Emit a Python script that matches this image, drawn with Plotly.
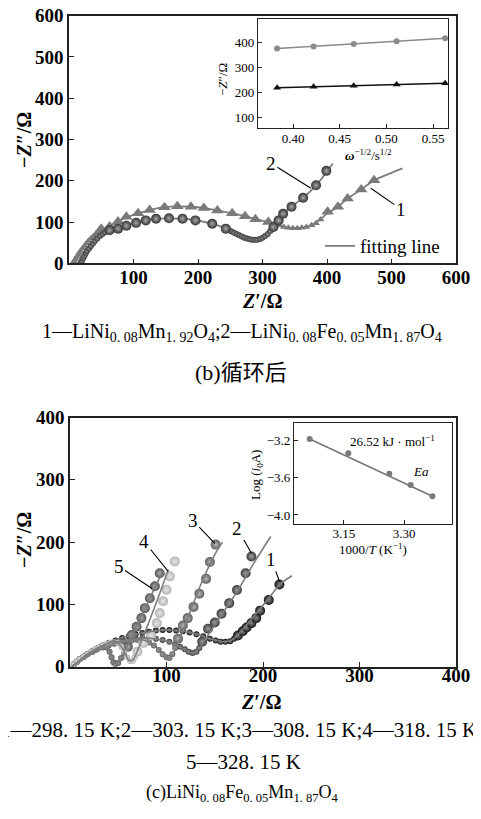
import plotly.graph_objects as go

W, H = 481, 819
SERIF = "Liberation Serif, Noto Sans CJK SC"

# ---------------- Panel (b) data ----------------
# series 1: LiNi0.08Mn1.92O4 (triangles)
t1_x = [50, 63, 76, 89, 107, 125, 148, 168, 189, 209, 230, 253, 273, 289, 309, 401, 417, 432, 453, 473]
t1_y = [84, 89, 101, 113, 121, 129, 136, 138, 137, 134, 128, 121, 114, 107, 100, 125, 137, 157, 179, 201]
t1s_x = [6, 8, 10, 12, 14, 16, 18, 21, 24, 27, 30, 34, 38, 42, 46,
         318, 326, 333, 340, 347, 354, 361, 368, 376, 383, 390]
t1s_y = [0, 5, 10, 15, 20, 25, 30, 36, 42, 48, 54, 60, 66, 72, 78,
         96, 92, 88, 86, 85, 85, 86, 88, 92, 97, 106]
fit1_x = [6, 20, 35, 50, 63, 76, 89, 107, 125, 148, 168, 189, 209, 230, 253, 273, 289, 309, 325, 340, 354, 368, 383, 401, 417, 432, 453, 473, 495, 517]
fit1_y = [0, 34, 62, 80, 90, 101, 111, 121, 129, 136, 138, 137, 134, 128, 121, 114, 107, 100, 92, 86, 85, 88, 99, 121, 137, 157, 179, 201, 216, 230]

# series 2: LiNi0.08Fe0.05Mn1.87O4 (spheres)
c2_x = [63, 76, 89, 104, 119, 135, 155, 176, 196, 222, 243, 317, 325, 332, 345, 363, 383, 399]
c2_y = [80, 84, 91, 98, 104, 108, 109, 108, 104, 96, 84, 88, 104, 120, 137, 159, 189, 224]
c2s_x = [18, 20, 22, 24, 26, 28, 31, 34, 37, 40, 44, 48, 52, 56, 60,
         248, 252, 256, 260, 264, 268, 272, 276, 280, 284, 288, 292, 296, 300, 304, 308, 312]
c2s_y = [0, 6, 12, 18, 24, 30, 36, 42, 48, 54, 60, 66, 71, 75, 78,
         80, 77, 74, 71, 68, 65, 62, 60, 58, 57, 57, 57, 59, 62, 66, 71, 78]
fit2_x = [18, 30, 40, 50, 63, 76, 89, 104, 119, 135, 155, 176, 196, 222, 243, 258, 270, 280, 290, 300, 310, 317, 325, 332, 345, 363, 383, 409]
fit2_y = [0, 30, 52, 66, 78, 85, 91, 98, 104, 108, 109, 108, 104, 96, 84, 72, 63, 58, 57, 60, 70, 88, 104, 120, 137, 159, 189, 242]

# inset (b)
ins_b_x = [0.383, 0.422, 0.465, 0.511, 0.563]
ins_b_y2 = [375, 383, 393, 404, 416]
ins_b_y1 = [218, 222, 226, 231, 236]

# ---------------- Panel (c) data ----------------
c_arc_x = {
    1: [2, 4, 7, 10, 14, 18, 23, 28, 34, 40, 47, 54, 61, 68, 75, 82, 89, 96, 103, 110, 117, 124, 131, 138, 145, 151, 156, 161, 166, 170],
    2: [2, 4, 7, 10, 14, 18, 23, 28, 34, 40, 47, 54, 61, 68, 75, 82, 89, 96, 103, 109, 114, 119, 123, 127, 131, 134],
    3: [2, 4, 7, 10, 14, 18, 23, 28, 34, 40, 46, 52, 58, 64, 70, 76, 82, 87, 92, 96, 100, 103, 106, 109],
    4: [2, 4, 7, 10, 14, 18, 22, 26, 30, 34, 38, 42, 46, 50, 53, 56, 59, 62, 65, 67],
    5: [2, 4, 7, 10, 14, 18, 22, 26, 29, 32, 35, 38, 41, 43, 45, 47, 50, 53, 56],
}
c_arc_y = {
    1: [0, 4, 8, 12, 16, 20, 25, 29, 34, 38, 42, 46, 49, 52, 54, 56, 58, 59, 59, 58, 57, 55, 52, 49, 45, 42, 40, 40, 41, 45],
    2: [0, 4, 8, 12, 16, 20, 24, 28, 32, 35, 38, 41, 43, 45, 46, 46, 45, 43, 40, 36, 32, 28, 24, 22, 24, 30],
    3: [0, 4, 8, 12, 16, 20, 24, 28, 31, 34, 37, 39, 41, 42, 43, 42, 39, 34, 27, 20, 15, 14, 20, 30],
    4: [0, 4, 8, 12, 16, 20, 24, 28, 31, 34, 37, 39, 40, 38, 32, 24, 15, 9, 9, 15],
    5: [0, 4, 8, 12, 16, 20, 24, 27, 30, 32, 33, 31, 24, 15, 7, 4, 6, 14, 22],
}
c_tail_x = {
    1: [174, 179, 183, 188, 193, 197, 206, 217],
    2: [137, 143, 150, 157, 165, 173, 182, 188],
    3: [112, 117, 122, 128, 134, 141, 145, 151],
    4: [70, 76, 84, 90, 93, 96.5, 100, 103.4, 108.6],
    5: [60, 64, 69, 74, 77.6, 82.7, 88, 93],
}
c_tail_y = {
    1: [50, 57, 63, 70, 78, 90, 107, 132],
    2: [40, 61, 71, 85, 102, 123, 150, 177],
    3: [45, 66, 78, 96, 117, 141, 168, 196],
    4: [24, 38, 50, 70, 86, 105, 123.5, 145, 169],
    5: [32, 51, 64, 78, 94, 110, 129, 150],
}
c_fit_x = {
    1: [2, 20, 45, 75, 100, 125, 145, 160, 168, 178, 190, 205, 218, 230],
    2: [2, 25, 50, 80, 100, 115, 124, 128, 134, 145, 160, 175, 190, 208],
    3: [2, 30, 55, 76, 90, 100, 104, 110, 120, 135, 150, 158],
    4: [2, 20, 35, 48, 55, 61, 65, 75, 90, 102],
    5: [2, 18, 30, 36, 42, 46, 50, 58, 75, 96],
}
c_fit_y = {
    1: [0, 20, 42, 54, 59, 55, 45, 40, 43, 58, 80, 108, 133, 146],
    2: [0, 23, 40, 46, 41, 31, 23, 22, 30, 55, 90, 125, 165, 209],
    3: [0, 28, 40, 43, 31, 15, 14, 30, 70, 130, 180, 200],
    4: [0, 22, 35, 40, 28, 10, 10, 45, 105, 156],
    5: [0, 20, 31, 33, 22, 5, 6, 30, 85, 153],
}
# inset (c)
ins_c_x = [3.065, 3.161, 3.263, 3.316, 3.370]
ins_c_y = [-3.19, -3.34, -3.56, -3.68, -3.80]

# ---------------- figure ----------------
fig = go.Figure()

OFF = 8  # page body margin of the browser view

def px2x(p):
    return (p - OFF) / W

def px2y(p):
    return 1 - (p - OFF) / H

FIT = "#7d7d7d"

# panel (b) main
fig.add_trace(go.Scatter(x=fit1_x, y=fit1_y, mode="lines", line=dict(color=FIT, width=1.8, shape="spline"),
                         name="fitting line", showlegend=True, xaxis="x", yaxis="y"))
fig.add_trace(go.Scatter(x=fit2_x, y=fit2_y, mode="lines", line=dict(color=FIT, width=1.8, shape="spline"),
                         showlegend=False, xaxis="x", yaxis="y"))
fig.add_trace(go.Scatter(x=t1s_x, y=t1s_y, mode="markers", showlegend=False, xaxis="x", yaxis="y",
                         marker=dict(symbol="triangle-up", size=7, color="#7a7a7a")))
fig.add_trace(go.Scatter(x=t1_x, y=t1_y, mode="markers", showlegend=False, xaxis="x", yaxis="y",
                         marker=dict(symbol="triangle-up", size=11, color="#7a7a7a")))
fig.add_trace(go.Scatter(x=c2s_x, y=c2s_y, mode="markers", showlegend=False, xaxis="x", yaxis="y",
                         marker=dict(size=6, color="#3a3a3a", gradient=dict(type="radial", color="#9a9a9a"))))
fig.add_trace(go.Scatter(x=c2_x, y=c2_y, mode="markers", showlegend=False, xaxis="x", yaxis="y",
                         marker=dict(size=10, color="#333333", gradient=dict(type="radial", color="#a8a8a8"))))

# inset (b)
fig.add_trace(go.Scatter(x=ins_b_x, y=ins_b_y2, mode="lines+markers", showlegend=False, xaxis="x2", yaxis="y2",
                         line=dict(color="#8a8a8a", width=1.3), marker=dict(size=6, color="#8a8a8a")))
fig.add_trace(go.Scatter(x=ins_b_x, y=ins_b_y1, mode="lines+markers", showlegend=False, xaxis="x2", yaxis="y2",
                         line=dict(color="#111111", width=1.3),
                         marker=dict(symbol="triangle-up", size=7, color="#111111")))

# panel (c) main
c_colors = {1: ("#151515", "#8a8a8a"), 2: ("#3c3c3c", "#a0a0a0"), 3: ("#5e5e5e", "#b8b8b8"),
            4: ("#b4b4b4", "#e6e6e6"), 5: ("#555555", "#adadad")}
for k in [1, 2, 3, 5, 4]:
    base, hi = c_colors[k]
    fig.add_trace(go.Scatter(x=c_arc_x[k], y=c_arc_y[k], mode="markers", showlegend=False, xaxis="x3", yaxis="y3",
                             marker=dict(size=6, color=base, gradient=dict(type="radial", color=hi))))
    fig.add_trace(go.Scatter(x=c_tail_x[k], y=c_tail_y[k], mode="markers", showlegend=False, xaxis="x3", yaxis="y3",
                             marker=dict(size=10, color=base, gradient=dict(type="radial", color=hi))))
for k in [1, 2, 3, 4, 5]:
    fig.add_trace(go.Scatter(x=c_fit_x[k], y=c_fit_y[k], mode="lines", showlegend=False, xaxis="x3", yaxis="y3",
                             line=dict(color=FIT, width=1.6, shape="spline", smoothing=0.6)))

# inset (c)
fig.add_trace(go.Scatter(x=[ins_c_x[0], ins_c_x[-1]], y=[ins_c_y[0], ins_c_y[-1]], mode="lines", showlegend=False,
                         xaxis="x4", yaxis="y4", line=dict(color="#777777", width=1.6)))
fig.add_trace(go.Scatter(x=ins_c_x, y=ins_c_y, mode="markers", showlegend=False, xaxis="x4", yaxis="y4",
                         marker=dict(size=6, color="#7a7a7a")))

main_tick = dict(family=SERIF, size=19, color="black", weight="bold")
ins_tick = dict(family=SERIF, size=13, color="black")
ax_common = dict(showgrid=False, zeroline=False, showline=True, mirror=True, ticks="inside",
                 linecolor="#222222", tickcolor="#222222", automargin=False, ticklabeloverflow="allow")

fig.update_layout(
    template="none",
    width=W, height=H, autosize=False,
    margin=dict(l=0, r=0, t=0, b=0, pad=0),
    paper_bgcolor="white", plot_bgcolor="white",
    xaxis=dict(**ax_common, domain=[px2x(69), px2x(456)], range=[0, 600], tickvals=[100, 200, 300, 400, 500, 600],
               anchor="y", linewidth=1.6, ticklen=5, tickfont=main_tick, ticklabelstandoff=-4),
    yaxis=dict(**ax_common, domain=[px2y(263.3), px2y(15.7)], range=[0, 600], tickvals=[0, 100, 200, 300, 400, 500, 600],
               anchor="x", linewidth=1.6, ticklen=5, tickfont=main_tick),
    xaxis2=dict(**ax_common, domain=[px2x(258), px2x(448)], range=[0.3625, 0.566],
                tickvals=[0.40, 0.45, 0.50, 0.55], tickformat=".2f", anchor="y2", linewidth=1.3, ticklen=4,
                tickfont=ins_tick, ticklabelstandoff=-2),
    yaxis2=dict(**ax_common, domain=[px2y(128), px2y(19)], range=[57, 493], tickvals=[100, 200, 300, 400],
                anchor="x2", linewidth=1.3, ticklen=4, tickfont=ins_tick),
    xaxis3=dict(**ax_common, domain=[px2x(70), px2x(456)], range=[0, 400], tickvals=[100, 200, 300, 400],
                anchor="y3", linewidth=1.6, ticklen=5, tickfont=main_tick, ticklabelstandoff=-9),
    yaxis3=dict(**ax_common, domain=[px2y(666.7), px2y(417.5)], range=[0, 400], tickvals=[0, 100, 200, 300, 400],
                anchor="x3", linewidth=1.6, ticklen=5, tickfont=main_tick),
    xaxis4=dict(**ax_common, domain=[px2x(294), px2x(451.7)], range=[3.026, 3.418], tickvals=[3.15, 3.30],
                tickformat=".2f", anchor="y4", linewidth=1.3, ticklen=4, tickfont=ins_tick, ticklabelstandoff=-3),
    yaxis4=dict(**ax_common, domain=[px2y(524.3), px2y(422.7)], range=[-4.1, -3.015], tickvals=[-3.2, -3.6, -4.0],
                tickformat=".1f", anchor="x4", linewidth=1.3, ticklen=4, tickfont=ins_tick),
    legend=dict(x=px2x(320), y=px2y(246), xanchor="left", yanchor="middle", bgcolor="rgba(0,0,0,0)",
                borderwidth=0, font=dict(family=SERIF, size=19, color="black")),
)

annots = []

def txt(text, px, py, size, angle=0, xanchor="center", weight="normal"):
    annots.append(dict(text=text, x=px2x(px), y=px2y(py), xref="paper", yref="paper", showarrow=False,
                       xanchor=xanchor, yanchor="middle", textangle=angle,
                       font=dict(family=SERIF, size=size, color="black", weight=weight)))

def ptr(label, xd, yd, ax, ay, xr, yr):
    annots.append(dict(text=label, x=xd, y=yd, xref=xr, yref=yr, showarrow=True, arrowhead=0,
                       arrowwidth=1.1, arrowcolor="black", ax=ax, ay=ay, standoff=0,
                       font=dict(family=SERIF, size=19, color="black")))

# panel (b) texts
txt("<b>−<i>Z</i>″/Ω</b>", 24, 140, 20, angle=-90)
txt("<b><i>Z</i>′/Ω</b>", 262, 301, 20)
txt("−<i>Z</i>″/Ω", 222, 80, 13, angle=-90)
txt("<b><i>ω</i></b><sup>−1/2</sup>/s<sup>1/2</sup>", 368, 155, 13)
ptr("2", 375, 182, -40, -25, "x", "y")
ptr("1", 468, 182, 30, 21, "x", "y")
txt("1—LiNi<sub>0. 08</sub>Mn<sub>1. 92</sub>O<sub>4</sub>;2—LiNi<sub>0. 08</sub>Fe<sub>0. 05</sub>Mn<sub>1. 87</sub>O<sub>4</sub>",
    242, 333, 20)
txt("(b)循环后", 241, 372, 22)

# panel (c) texts
txt("<b>−<i>Z</i>″/Ω</b>", 24, 540, 20, angle=-90)
txt("<b><i>Z</i>′/Ω</b>", 261, 702, 20)
txt("Log (<i>i</i><sub>0</sub>A)", 256, 475, 13, angle=-90)
txt("1000/<i>T</i> (K<sup>−1</sup>)", 373, 549, 13)
txt("26.52 kJ · mol<sup>−1</sup>", 392, 441, 13)
txt("<i>Ea</i>", 421, 471, 13)
ptr("1", 217, 137, -8, -22, "x3", "y3")
ptr("2", 188, 182, -14, -25, "x3", "y3")
ptr("3", 150, 198, -22, -23, "x3", "y3")
ptr("4", 101.7, 153, -24, -30, "x3", "y3")
ptr("5", 84.5, 126, -33, -22, "x3", "y3")
txt("1—298. 15 K;2—303. 15 K;3—308. 15 K;4—318. 15 K", 479, 730, 21, xanchor="right")
txt("5—328. 15 K", 243, 762, 21)
txt("(c)LiNi<sub>0. 08</sub>Fe<sub>0. 05</sub>Mn<sub>1. 87</sub>O<sub>4</sub>", 242, 793, 18)

fig.update_layout(annotations=annots)
fig.write_html("out.html")
